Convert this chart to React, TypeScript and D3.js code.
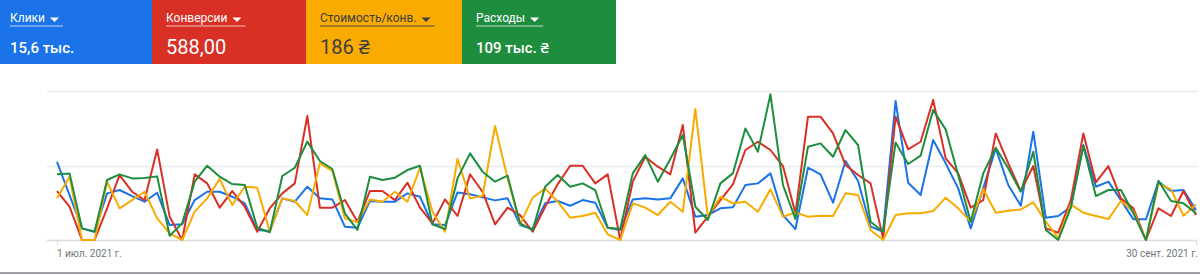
import React, { useEffect, useRef } from "react";
import * as d3 from "d3";

const metricLabels = ["Клики", "Конверсии", "Стоимость/конв.", "Расходы"];
const metricTotals = ["15,6 тыс.", "588,00", "186 ₴", "109 тыс. ₴"];
const metricColors = ["#1a73e8", "#d93025", "#f9ab00", "#1e8e3e"];
const metricTextColors = ["#ffffff", "#ffffff", "#3c4043", "#ffffff"];
const axisLabels = ["1 июл. 2021 г.", "30 сент. 2021 г."];
const startDate = new Date(2021, 6, 1);

// values are on a shared normalised scale (gridlines at 100 and 200)
const clicks = [
  105, 60.4, 15.6, 11.1, 62.6, 67.1, 59, 51.4, 63.5, 20.1, 21, 53.6, 64.8, 64.8, 58.1, 49.2, 13.4, 12, 55.9, 51.4, 71.5, 55.9, 54.5,
  17.9, 16.5, 52.3, 51.4, 51.4, 62.6, 58.1, 21, 20.1, 63.9, 61.3, 57.2, 53.2, 55.9, 20.1, 14.7, 49.2, 52.3, 46, 53.6, 50.1, 16.5, 13.4,
  54.5, 55.9, 54.5, 55.9, 82.7, 31.3, 33.5, 42.5, 43.8, 73.8, 76, 89.4, 33.5, 14.7, 97, 88.1, 50.1, 106, 79.1, 17.9, 11.1, 186.5, 76.9,
  60.4, 134.2, 102.9, 69.3, 15.6, 69.3, 123, 73.8, 46, 145.4, 29.9, 32.2, 44.7, 127.5, 71.5, 78.3, 53.6, 27.7, 27.7, 78.3, 65.7, 67.1, 40.2,
];
const conversions = [
  65.7, 44.7, 0, 0, 42.5, 87.2, 64.8, 53.6, 121.6, 31.3, 0, 88.1, 76, 43.4, 65.7, 44.7, 11.1, 42.5, 62.6, 76, 166.4, 43.4, 43.4,
  53.6, 24.6, 65.7, 65.7, 53.6, 76.9, 43.4, 22.3, 54.5, 32.2, 88.1, 64.8, 21, 43.4, 33.5, 11.1, 44.7, 74.7, 99.7, 99.7, 76, 88.1, 0,
  78.3, 111.8, 98.4, 88.1, 154.3, 9.8, 31.3, 53.6, 74.7, 120.8, 131.9, 120.8, 99.3, 35.8, 165.5, 165.5, 143.1, 100.6, 87.2, 76, 2.2, 165.5, 121.7,
  131.9, 187.9, 109.6, 89.4, 43.4, 53.6, 143.1, 102.9, 65.7, 99.3, 15.6, 9.8, 53.6, 143.1, 77.4, 99.3, 55.9, 42.5, 0, 42.5, 32.2, 65.7, 33.5,
];
const costPerConv = [
  55.9, 85, 0, 0, 78.3, 42.5, 53.6, 64.8, 29, 8.9, 0, 38, 55.9, 81.8, 46.9, 71.5, 70.2, 11.1, 55.9, 52.3, 33.5, 102.9, 92.6,
  29, 23.7, 54.5, 51.4, 64.8, 51.4, 97, 38, 11.1, 108.7, 55.9, 59, 153, 82.7, 21, 56.8, 69.3, 51.4, 29.9, 32.2, 36.6, 7.6, 0,
  49.2, 43.4, 33.5, 51.4, 38, 175.8, 31.3, 58.1, 49.2, 51.4, 38, 68, 31.3, 37.1, 31.3, 32.6, 32.2, 62.6, 60.4, 13.4, 0, 33.5, 35.8,
  35.8, 38.9, 56.8, 42.5, 24.6, 68.4, 36.6, 39.3, 41.1, 50.5, 24.6, 2.2, 47.8, 36.6, 32.2, 28.1, 52.3, 38, 0, 76, 68, 32.6, 47.8,
];
const spend = [
  88.1, 89.4, 15.6, 11.1, 80.5, 88.1, 82.7, 83.2, 85.4, 5.8, 22.3, 78.3, 99.7, 85, 75.1, 73.8, 16.5, 10.3, 85.9, 97, 132, 106, 95.3,
  35.8, 13.4, 85, 80.5, 83.6, 93.9, 99.7, 21, 14.7, 82.7, 116.3, 91.7, 78.3, 86.3, 22.3, 13.4, 71.5, 87.2, 71.5, 76, 67.1, 16.5, 14.7,
  89.4, 114, 78.3, 108.7, 140.9, 44.7, 26.8, 76, 89.4, 149.8, 118.5, 195.5, 73.8, 28.1, 125.2, 129.7, 111.8, 147.6, 127.5, 24.6, 11.1, 131, 102,
  113.2, 174.4, 148.5, 87.2, 24.6, 89.4, 123.9, 96.2, 64.8, 118.5, 13.4, 0, 43.4, 126.1, 59, 67.1, 67.1, 35.8, 0, 79.6, 52.3, 49.2, 35.8,
];
const seriesList = [clicks, conversions, costPerConv, spend];
const gridValues = [0, 100, 200];

export default function App() {
  const ref = useRef<SVGSVGElement | null>(null);

  useEffect(() => {
    const svg = d3.select(ref.current);
    svg.selectAll("*").remove();
    const font = "Roboto, 'Noto Sans', Arial, sans-serif";

    // ---- metric tiles
    const tileX = [0, 152, 306, 462];
    const tileW = [152, 154, 156, 154];
    const padX = [10, 14, 14, 14];
    const tileH = 64;
    metricLabels.forEach((label, i) => {
      const g = svg.append("g").attr("transform", `translate(${tileX[i]},0)`);
      g.append("rect").attr("width", tileW[i]).attr("height", tileH).attr("fill", metricColors[i]);
      const tc = metricTextColors[i];
      const t = g
        .append("text")
        .attr("x", padX[i])
        .attr("y", 22)
        .attr("font-family", font)
        .attr("font-size", 12)
        .attr("fill", tc)
        .text(label);
      const w = (t.node() as SVGTextElement).getComputedTextLength();
      const tx = padX[i] + w + 5;
      g.append("path")
        .attr("d", `M${tx},17.5 L${tx + 9},17.5 L${tx + 4.5},22 Z`)
        .attr("fill", tc);
      g.append("rect")
        .attr("x", padX[i])
        .attr("y", 25.5)
        .attr("width", w + 5 + 9 + 4)
        .attr("height", 1)
        .attr("fill", tc)
        .attr("opacity", i === 2 ? 0.9 : 0.7);
      const big = i === 1 || i === 2;
      g.append("text")
        .attr("x", padX[i])
        .attr("y", big ? 54 : 53)
        .attr("font-family", font)
        .attr("font-size", big ? 20 : 15)
        .attr("font-weight", big ? 400 : 500)
        .attr("fill", tc)
        .text(metricTotals[i]);
    });

    // ---- chart
    const dates = clicks.map((_, i) => d3.timeDay.offset(startDate, i));
    const x = d3
      .scaleTime()
      .domain([dates[0], dates[dates.length - 1]])
      .range([57, 1196]);
    const y = d3.scaleLinear().domain([0, 200]).range([240, 91]);

    const left = 47;
    const right = 1197;
    gridValues.forEach((v) => {
      svg
        .append("line")
        .attr("x1", left)
        .attr("x2", right)
        .attr("y1", Math.round(y(v)) + 0.5)
        .attr("y2", Math.round(y(v)) + 0.5)
        .attr("stroke", v === 0 ? "#dadce0" : "#e8eaed")
        .attr("stroke-width", 1.5);
    });
    [dates[0], dates[dates.length - 1]].forEach((d) => {
      svg
        .append("line")
        .attr("x1", Math.round(x(d)) + 0.5)
        .attr("x2", Math.round(x(d)) + 0.5)
        .attr("y1", 240)
        .attr("y2", 245)
        .attr("stroke", "#dadce0");
    });
    svg
      .append("text")
      .attr("x", x(dates[0]))
      .attr("y", 257)
      .attr("font-family", font)
      .attr("font-size", 10)
      .attr("fill", "#70757a")
      .text(axisLabels[0]);
    svg
      .append("text")
      .attr("x", x(dates[dates.length - 1]) + 2)
      .attr("y", 257)
      .attr("text-anchor", "end")
      .attr("font-family", font)
      .attr("font-size", 10)
      .attr("fill", "#70757a")
      .text(axisLabels[1]);

    const line = d3
      .line<number>()
      .x((_, i) => x(dates[i]))
      .y((v) => y(v));
    seriesList.forEach((s, i) => {
      svg
        .append("path")
        .attr("d", line(s) as string)
        .attr("fill", "none")
        .attr("stroke", metricColors[i])
        .attr("stroke-width", 2)
        .attr("stroke-linejoin", "round");
    });

    svg
      .append("rect")
      .attr("x", 0)
      .attr("y", 272)
      .attr("width", 1200)
      .attr("height", 2)
      .attr("fill", "#9aa0a6");
  }, []);

  return (
    <div style={{ position: "absolute", left: 0, top: 0 }}>
      <svg ref={ref} width={1200} height={275} style={{ display: "block", background: "#fff" }} />
    </div>
  );
}
